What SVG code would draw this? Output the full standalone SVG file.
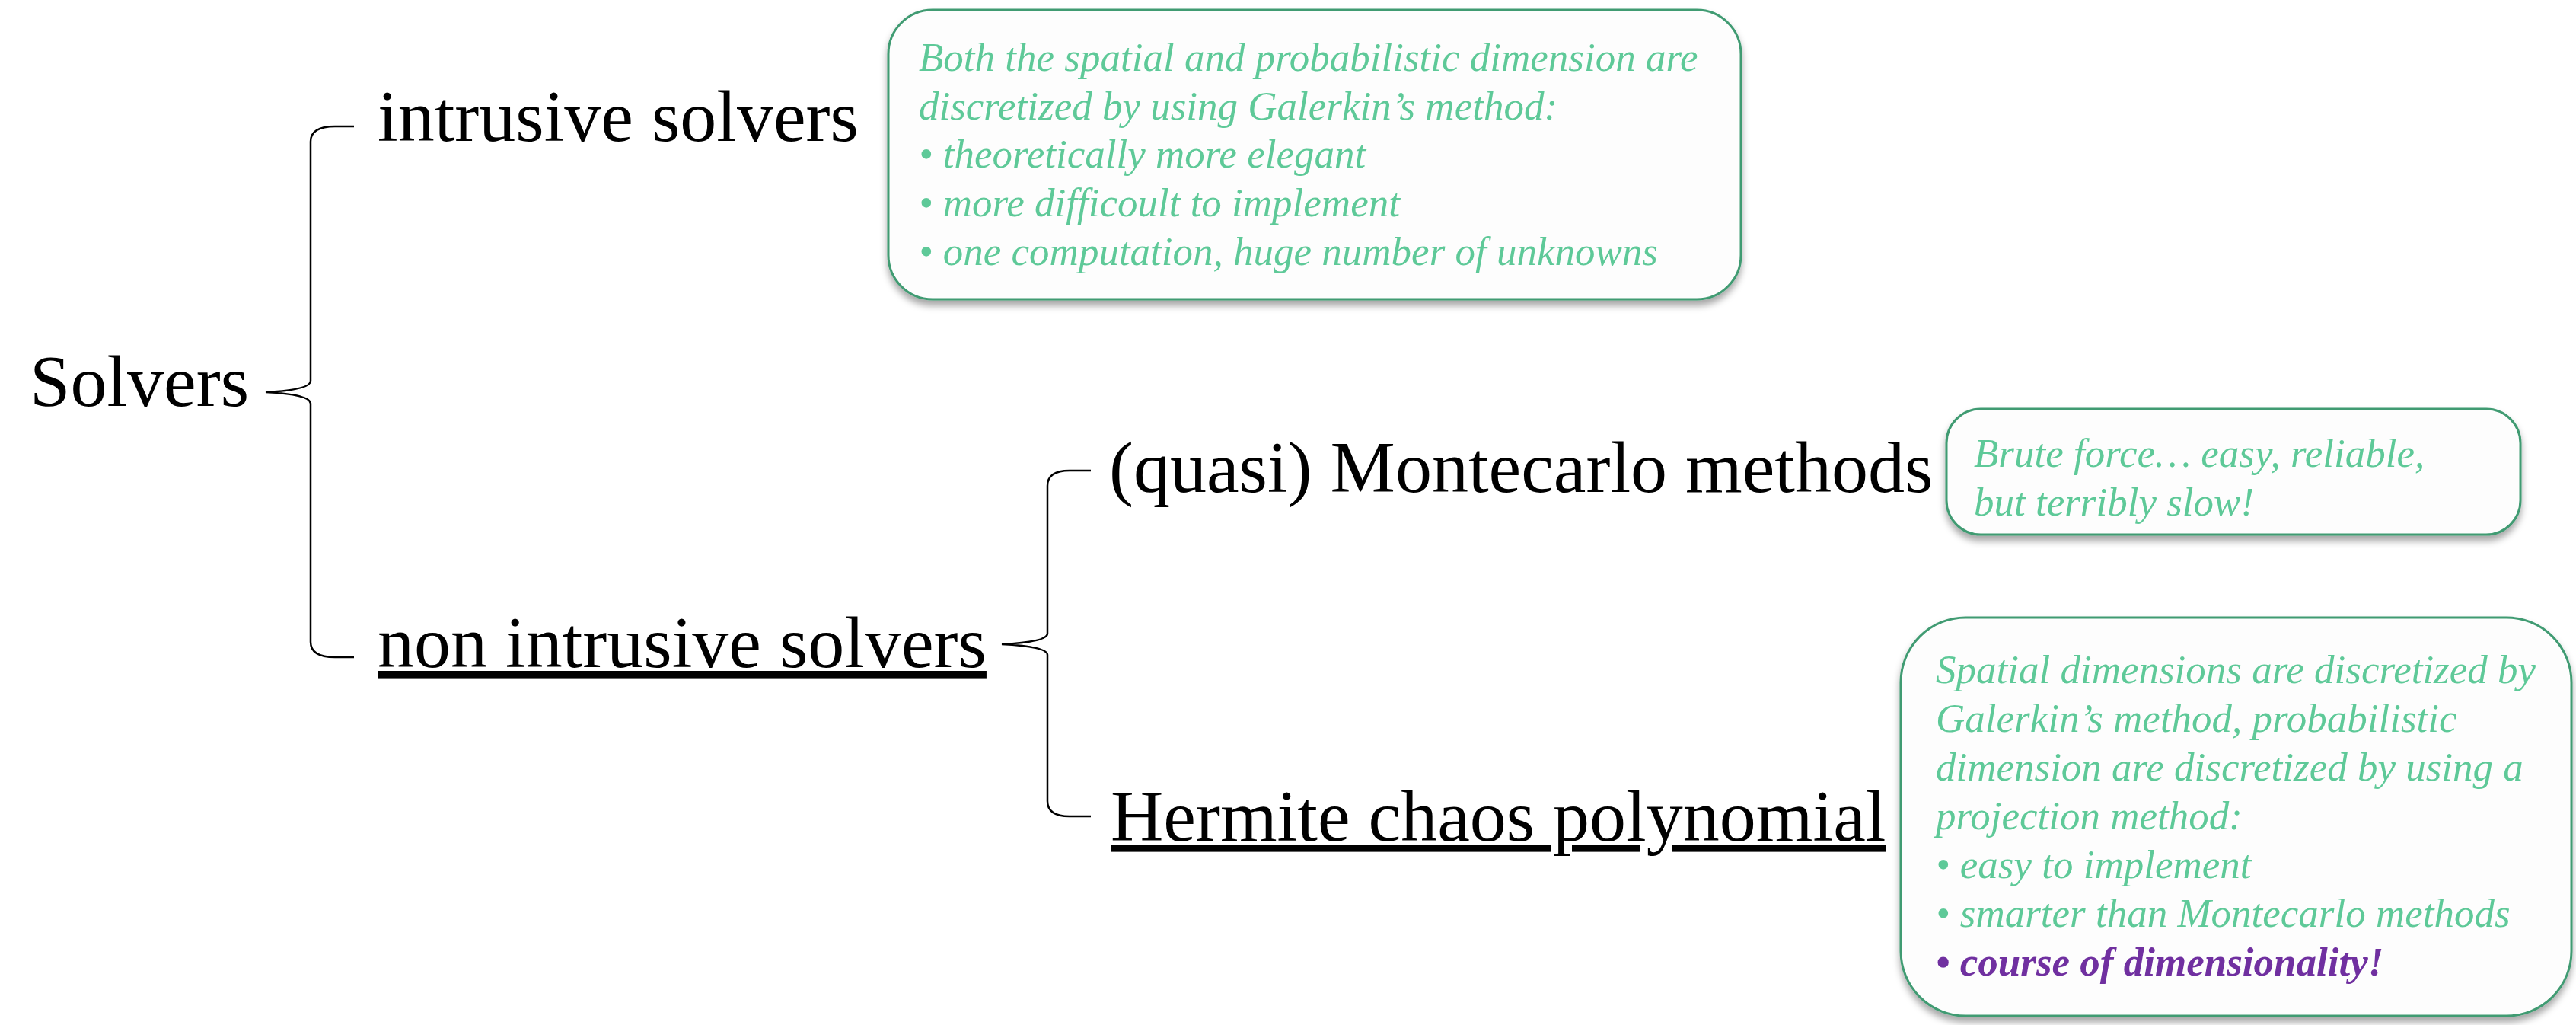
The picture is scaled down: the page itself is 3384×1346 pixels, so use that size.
<svg xmlns="http://www.w3.org/2000/svg" width="3384" height="1346" viewBox="0 0 3384 1346">
  <defs>
    <filter id="shadow" x="-5%" y="-5%" width="110%" height="115%">
      <feDropShadow dx="0" dy="7" stdDeviation="5" flood-color="#000" flood-opacity="0.35"/>
    </filter>
    <style>
      .main { font-family: "Liberation Serif", "Times New Roman", serif; font-size: 96px; fill: #000; }
      .u { text-decoration: underline; }
      .note { font-family: "Liberation Serif", "Times New Roman", serif; font-size: 53px; font-style: italic; fill: #5ec998; }
      .hot { fill: #7030a0; font-weight: bold; }
      .box { fill: #fdfdfd; stroke: #3f9b72; stroke-width: 3; filter: url(#shadow); }
      .brace { fill: none; stroke: #000; stroke-width: 2.5; }
    </style>
  </defs>
  <rect width="3384" height="1346" fill="#fff"/>

  <g id="connectors">
    <path class="brace" d="M465,166 L440,166 Q408,166 408,186 L408,500 Q408,512 349,515 Q408,518 408,530 L408,843 Q408,863 440,863 L465,863"/>
    <path class="brace" d="M1433,618 L1405,618 Q1376,618 1376,638 L1376,832 Q1376,843 1316,846 Q1376,849 1376,860 L1376,1052 Q1376,1072 1405,1072 L1433,1072"/>
  </g>

  <g id="node-solvers">
    <text class="main" x="39" y="533">Solvers</text>
  </g>
  <g id="node-intrusive">
    <text class="main" x="496" y="185">intrusive solvers</text>
  </g>
  <g id="node-nonintrusive">
    <text class="main u" x="496" y="876">non intrusive solvers</text>
  </g>
  <g id="node-montecarlo">
    <text class="main" x="1457" y="646">(quasi) Montecarlo methods</text>
  </g>
  <g id="node-hermite">
    <text class="main u" x="1459" y="1104">Hermite chaos polynomial</text>
  </g>

  <g id="note-intrusive">
    <rect class="box" x="1167" y="13" width="1120" height="380" rx="58" ry="58"/>
    <text class="note" x="1207" y="93">Both the spatial and probabilistic dimension are</text>
    <text class="note" x="1207" y="157">discretized by using Galerkin’s method:</text>
    <text class="note" x="1207" y="220">• theoretically more elegant</text>
    <text class="note" x="1207" y="284">• more difficoult to implement</text>
    <text class="note" x="1207" y="348">• one computation, huge number of unknowns</text>
  </g>

  <g id="note-montecarlo">
    <rect class="box" x="2557" y="537" width="754" height="165" rx="45" ry="45"/>
    <text class="note" x="2593" y="613">Brute force… easy, reliable,</text>
    <text class="note" x="2593" y="677">but terribly slow!</text>
  </g>

  <g id="note-hermite">
    <rect class="box" x="2497" y="811" width="881" height="523" rx="85" ry="85"/>
    <text class="note" x="2543" y="897">Spatial dimensions are discretized by</text>
    <text class="note" x="2543" y="961">Galerkin’s method, probabilistic</text>
    <text class="note" x="2543" y="1025">dimension are discretized by using a</text>
    <text class="note" x="2543" y="1089">projection method:</text>
    <text class="note" x="2543" y="1153">• easy to implement</text>
    <text class="note" x="2543" y="1217">• smarter than Montecarlo methods</text>
    <text class="note hot" x="2543" y="1281">• course of dimensionality!</text>
  </g>
</svg>
